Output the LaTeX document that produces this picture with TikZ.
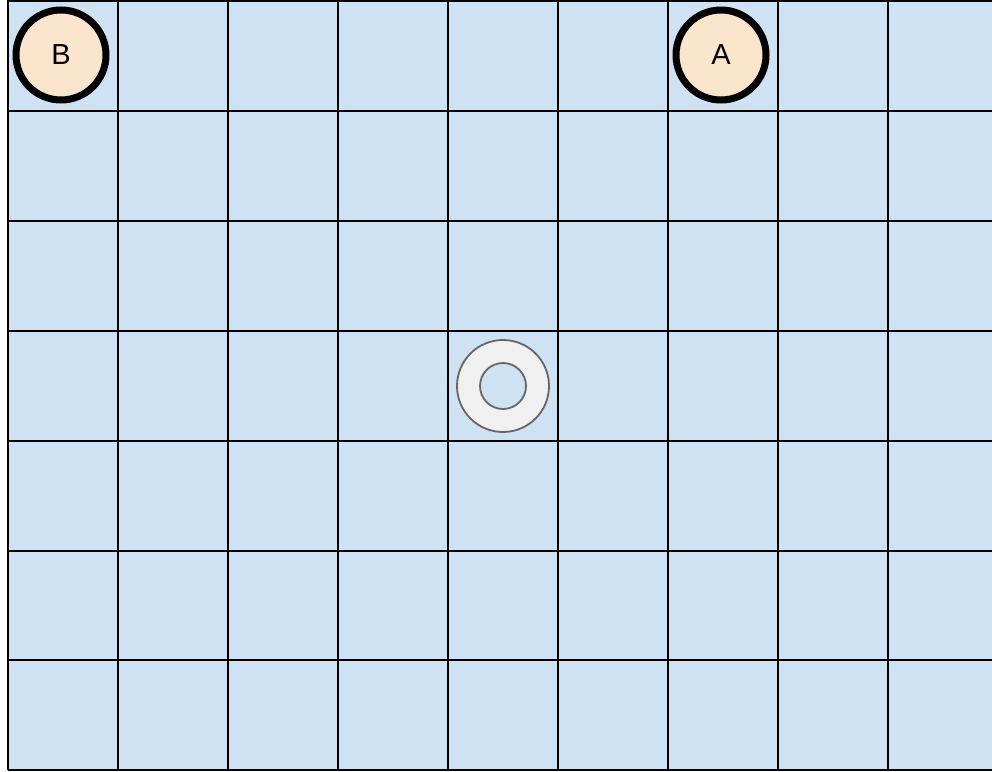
\documentclass[tikz,border=0pt]{standalone}
\usepackage{fontspec}
\setmainfont{Liberation Sans}
\definecolor{cellblue}{HTML}{CFE2F3}
\definecolor{peach}{HTML}{FCE5CD}
\definecolor{ringfill}{HTML}{F0F0F0}
\definecolor{ringline}{HTML}{666666}
\begin{document}
\begin{tikzpicture}[x=1pt,y=-1pt,
  gridline/.style={line width=2pt,black},
  token/.style={circle,draw=black,line width=7pt,fill=peach,minimum size=90pt,inner sep=0pt,font=\fontsize{29pt}{34pt}\selectfont}]
\useasboundingbox (0,0) rectangle (992,771);
\clip (0,0) rectangle (992,771);
\fill[cellblue] (8,1) rectangle (1000,770);
\foreach \i in {0,...,9} \draw[gridline] ({8+110*\i},0) -- ({8+110*\i},770);
\foreach \j in {0,...,7} \draw[gridline] (8,{1+109.9*\j}) -- (1000,{1+109.9*\j});
\node[token] (B) at (61,55) {B};
\node[token] (A) at (721,55) {A};
\node[circle,draw=ringline,line width=1.8pt,fill=ringfill,minimum size=92pt,inner sep=0pt] (ring) at (503,386) {};
\node[circle,draw=ringline,line width=1.8pt,fill=cellblue,minimum size=46pt,inner sep=0pt] (hole) at (503,386) {};
\end{tikzpicture}
\end{document}
